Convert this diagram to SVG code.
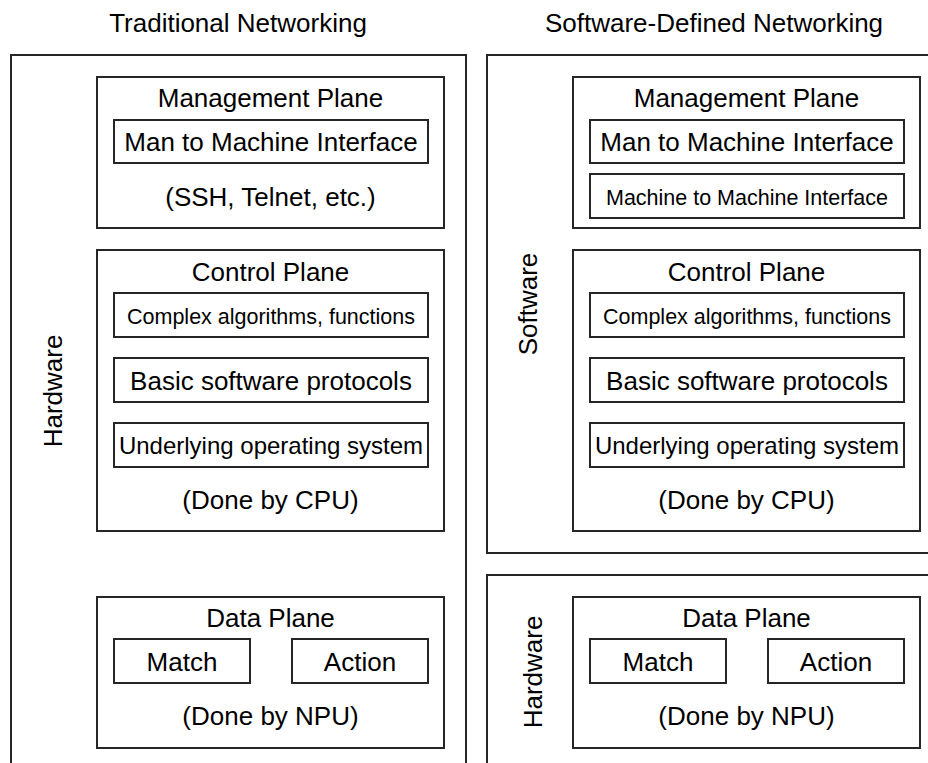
<svg xmlns="http://www.w3.org/2000/svg" width="928" height="763" viewBox="0 0 928 763">
  <style>
    .box { fill: #ffffff; stroke: #262626; stroke-width: 2; }
    .t { font-family: "Liberation Sans", Arial, sans-serif; fill: #000000; text-anchor: middle; font-size: 26px; }
    .s { font-size: 21.5px; }
    .m { font-size: 24px; }
  </style>
  <rect width="928" height="763" fill="#ffffff"/>

  <!-- Column headings -->
  <text class="t" x="238" y="32">Traditional Networking</text>
  <text class="t" x="714" y="32">Software-Defined Networking</text>

  <!-- Traditional networking: everything in hardware -->
  <g id="trad-hardware">
    <rect class="box" x="11" y="55" width="455" height="720"/>
    <text class="t" transform="translate(62 391) rotate(-90)">Hardware</text>
  </g>

  <g id="trad-management">
    <rect class="box" x="97" y="77" width="347" height="151"/>
    <text class="t" x="270.5" y="107">Management Plane</text>
    <rect class="box" x="114" y="120" width="314" height="43"/>
    <text class="t" x="271" y="151">Man to Machine Interface</text>
    <text class="t" x="270.5" y="206">(SSH, Telnet, etc.)</text>
  </g>

  <g id="trad-control">
    <rect class="box" x="97" y="250" width="347" height="281"/>
    <text class="t" x="270.5" y="281">Control Plane</text>
    <rect class="box" x="114" y="293" width="314" height="44"/>
    <text class="t s" x="271" y="324">Complex algorithms, functions</text>
    <rect class="box" x="114" y="358" width="314" height="44"/>
    <text class="t" x="271" y="390">Basic software protocols</text>
    <rect class="box" x="114" y="423" width="314" height="44"/>
    <text class="t m" x="271" y="454">Underlying operating system</text>
    <text class="t" x="270.5" y="509">(Done by CPU)</text>
  </g>

  <g id="trad-data">
    <rect class="box" x="97" y="597" width="347" height="151"/>
    <text class="t" x="270.5" y="627">Data Plane</text>
    <rect class="box" x="114" y="639" width="136" height="44"/>
    <text class="t" x="182" y="671">Match</text>
    <rect class="box" x="292" y="639" width="136" height="44"/>
    <text class="t" x="360" y="671">Action</text>
    <text class="t" x="270.5" y="725">(Done by NPU)</text>
  </g>

  <!-- Software-defined networking: software part -->
  <g id="sdn-software">
    <rect class="box" x="487" y="55" width="460" height="498"/>
    <text class="t" transform="translate(537 304) rotate(-90)">Software</text>
  </g>

  <g id="sdn-management">
    <rect class="box" x="573" y="77" width="347" height="151"/>
    <text class="t" x="746.5" y="107">Management Plane</text>
    <rect class="box" x="590" y="120" width="314" height="43"/>
    <text class="t" x="747" y="151">Man to Machine Interface</text>
    <rect class="box" x="590" y="174" width="314" height="44"/>
    <text class="t s" x="747" y="205">Machine to Machine Interface</text>
  </g>

  <g id="sdn-control">
    <rect class="box" x="573" y="250" width="347" height="281"/>
    <text class="t" x="746.5" y="281">Control Plane</text>
    <rect class="box" x="590" y="293" width="314" height="44"/>
    <text class="t s" x="747" y="324">Complex algorithms, functions</text>
    <rect class="box" x="590" y="358" width="314" height="44"/>
    <text class="t" x="747" y="390">Basic software protocols</text>
    <rect class="box" x="590" y="423" width="314" height="44"/>
    <text class="t m" x="747" y="454">Underlying operating system</text>
    <text class="t" x="746.5" y="509">(Done by CPU)</text>
  </g>

  <!-- Software-defined networking: hardware part -->
  <g id="sdn-hardware">
    <rect class="box" x="487" y="575" width="460" height="200"/>
    <text class="t" transform="translate(542 672) rotate(-90)">Hardware</text>
  </g>

  <g id="sdn-data">
    <rect class="box" x="573" y="597" width="347" height="151"/>
    <text class="t" x="746.5" y="627">Data Plane</text>
    <rect class="box" x="590" y="639" width="136" height="44"/>
    <text class="t" x="658" y="671">Match</text>
    <rect class="box" x="768" y="639" width="136" height="44"/>
    <text class="t" x="836" y="671">Action</text>
    <text class="t" x="746.5" y="725">(Done by NPU)</text>
  </g>

  <g id="connectors"></g>
</svg>
